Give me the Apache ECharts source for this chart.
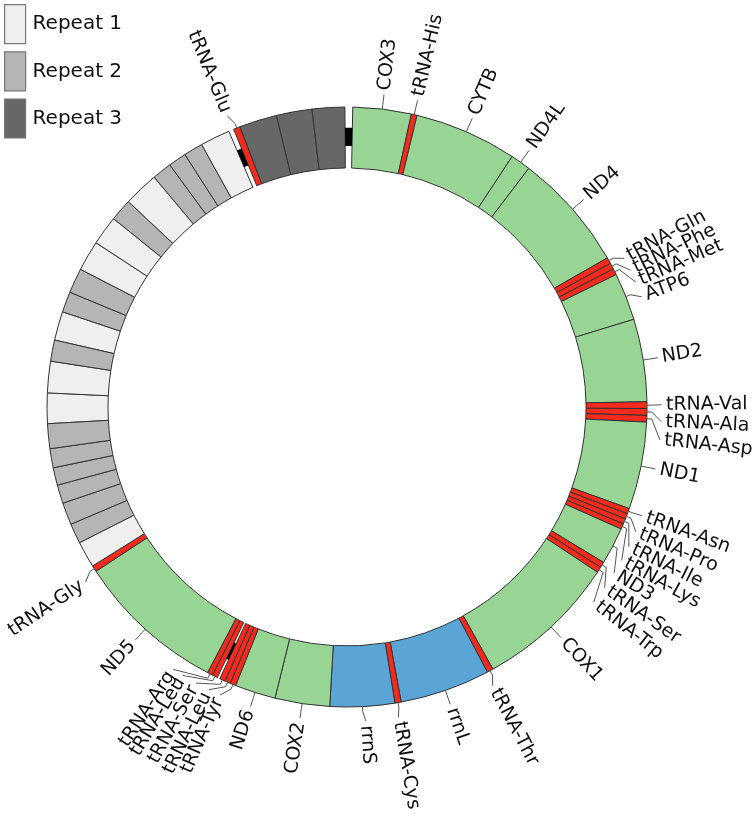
<!DOCTYPE html>
<html><head><meta charset="utf-8">
<script src="https://cdn.jsdelivr.net/npm/echarts@6/dist/echarts.min.js"></script>
<style>html,body{margin:0;padding:0;background:#fff}#c{width:756px;height:826px}</style>
</head><body><div id="c"></div>
<script>
// Positions on the circular map, in axis units (0-360 around the genome)
const geneNames = ['COX3','tRNA-His','CYTB','ND4L','ND4','tRNA-Gln','tRNA-Phe','tRNA-Met','ATP6','ND2',
  'tRNA-Val','tRNA-Ala','tRNA-Asp','ND1','tRNA-Asn','tRNA-Pro','tRNA-Ile','tRNA-Lys','ND3','tRNA-Ser',
  'tRNA-Trp','COX1','tRNA-Thr','rrnL','tRNA-Cys','rrnS','COX2','ND6','tRNA-Tyr','tRNA-Leu','tRNA-Ser',
  'tRNA-Leu','tRNA-Arg','ND5','tRNA-Gly','tRNA-Glu'];
const geneStart = [1.1,12.4,13.5,33.4,37.3,60.2,61.4,62.6,63.8,73.0,
  89.0,90.3,91.6,92.9,109.8,110.85,111.9,112.95,114.0,121.2,
  122.3,123.4,150.9,152.1,169.6,170.8,183.3,193.9,201.8,202.9,204.0,
  205.6,206.65,207.7,236.8,337.8];
const geneEnd = [12.4,13.5,33.4,37.3,60.2,61.4,62.6,63.8,73.0,89.0,
  90.3,91.6,92.9,109.8,110.85,111.9,112.95,114.0,121.2,122.3,
  123.4,150.9,152.1,169.6,170.8,183.3,193.9,201.8,202.9,204.0,205.1,
  206.65,207.7,236.8,238.0,339.1];
const geneType = ['pcg','trna','pcg','pcg','pcg','trna','trna','trna','pcg','pcg',
  'trna','trna','trna','pcg','trna','trna','trna','trna','pcg','trna',
  'trna','pcg','trna','rrna','trna','rrna','pcg','pcg','trna','trna','trna',
  'trna','trna','pcg','trna','trna'];
// label angular offsets (layout) relative to feature middle
const labelShift = [0,0,0,0,0,1.0,2.2,3.4,1.1,0,
  -0.05,1.75,3.75,0,-0.1,2.0,3.95,5.7,4.3,3.3,
  5.5,0,0.9,0,0.4,-0.5,0,0,1.4,2.6,4.1,
  5.3,6.3,0,-1.2,-0.8];

// Repeat units (start, end) per repeat type
const repeat1Start = [238.0,266.8,272.7,282.9,297.3,303.2,313.2,331.0];
const repeat1End   = [243.1,272.7,278.8,288.5,303.2,308.9,320.0,336.8];
const repeat2Start = [243.1,247.0,251.3,254.9,258.3,262.0,278.8,288.5,292.5,308.9,320.0,323.8,327.3];
const repeat2End   = [247.0,251.3,254.9,258.3,262.0,266.8,282.9,292.5,297.3,313.2,323.8,327.3,331.0];
const repeat3Start = [339.1,346.4,353.3];
const repeat3End   = [346.4,353.3,359.6];
// non-coding black spacer marks
const spacerStart = [359.6,336.8,205.1];
const spacerEnd   = [361.1,337.8,205.6];

const COLORS = {pcg:'#98d594', trna:'#f42b1c', rrna:'#5aa5d5', r1:'#efefef', r2:'#b5b5b5', r3:'#676767'};
const EDGE = '#333333';

function sectorFrom(params, api, s, e, rv0, rv1) {
  const cs = params.coordSys, cx = cs.cx, cy = cs.cy;
  const a = api.coord([rv1, s]), b = api.coord([rv1, e]), c = api.coord([rv0, s]);
  let a1 = Math.atan2(a[1]-cy, a[0]-cx), a2 = Math.atan2(b[1]-cy, b[0]-cx);
  while (a2 <= a1) a2 += 2*Math.PI;
  return {cx, cy, r: Math.hypot(a[0]-cx, a[1]-cy), r0: Math.hypot(c[0]-cx, c[1]-cy), startAngle: a1, endAngle: a2, clockwise: true};
}
function ringSeries(name, starts, ends, colorFn) {
  return {
    type: 'custom', name, coordinateSystem: 'polar', silent: true,
    itemStyle: {color: colorFn(0), borderColor: EDGE, borderWidth: 1},
    data: starts.map((s, i) => [s, ends[i]]),
    renderItem: (params, api) => ({
      type: 'sector',
      shape: sectorFrom(params, api, api.value(0), api.value(1), 0, 1),
      style: {fill: colorFn(params.dataIndex), stroke: EDGE, lineWidth: 1}
    })
  };
}

const series = [
  ringSeries('genes', geneStart, geneEnd, i => COLORS[geneType[i]]),
  ringSeries('Repeat 1', repeat1Start, repeat1End, () => COLORS.r1),
  ringSeries('Repeat 2', repeat2Start, repeat2End, () => COLORS.r2),
  ringSeries('Repeat 3', repeat3Start, repeat3End, () => COLORS.r3),
  {
    type: 'custom', name: 'spacer', coordinateSystem: 'polar', silent: true,
    data: spacerStart.map((s, i) => [s, spacerEnd[i]]),
    renderItem: (params, api) => ({
      type: 'sector', shape: sectorFrom(params, api, api.value(0), api.value(1), 0.36, 0.66),
      style: {fill: '#000'}
    })
  },
  {
    type: 'custom', name: 'labels', coordinateSystem: 'polar', silent: true,
    data: geneNames.map((n, i) => [(geneStart[i] + geneEnd[i]) / 2, (geneStart[i] + geneEnd[i]) / 2 + labelShift[i]]),
    renderItem: (params, api) => {
      const cs = params.coordSys, cx = cs.cx, cy = cs.cy;
      const anc = api.value(0), lab = api.value(1);
      const p0 = api.coord([1, anc]);
      const p1 = api.coord([1.08, anc]);
      const p2 = api.coord([1.24, lab]);
      const pt = api.coord([1.31, lab]);
      const phi = Math.atan2(pt[1]-cy, pt[0]-cx); // screen angle
      const left = Math.cos(phi) < -0.02 || (Math.abs(Math.cos(phi)) <= 0.02 && lab > 180);
      const rot = left ? -(phi - Math.PI) : -phi;
      return {
        type: 'group',
        children: [
          {type: 'polyline', shape: {points: [p0, p1, p2]}, style: {stroke: '#555', lineWidth: 1, fill: null}},
          {type: 'text', x: pt[0], y: pt[1], rotation: rot,
           style: {text: geneNames[params.dataIndex], fill: '#111', font: '19px "DejaVu Sans"',
                   align: left ? 'right' : 'left', verticalAlign: 'middle'}}
        ]
      };
    }
  }
];

const chart = echarts.init(document.getElementById('c'), null, {renderer: 'canvas'});
chart.setOption({
  animation: false,
  backgroundColor: '#fff',
  polar: {center: [347, 407], radius: [239, 300]},
  angleAxis: {type: 'value', min: 0, max: 360, startAngle: 90, clockwise: true, show: false},
  radiusAxis: {type: 'value', min: 0, max: 1, show: false},
  legend: {
    data: ['Repeat 1', 'Repeat 2', 'Repeat 3'], orient: 'vertical', left: 4, top: 4, padding: 0,
    itemWidth: 21, itemHeight: 39, itemGap: 7, icon: 'rect', selectedMode: false,
    itemStyle: {borderColor: '#777', borderWidth: 1.2},
    textStyle: {fontFamily: 'DejaVu Sans', fontSize: 20, color: '#111', padding: [0, 0, 0, 2]}
  },
  series
});
</script></body></html>
